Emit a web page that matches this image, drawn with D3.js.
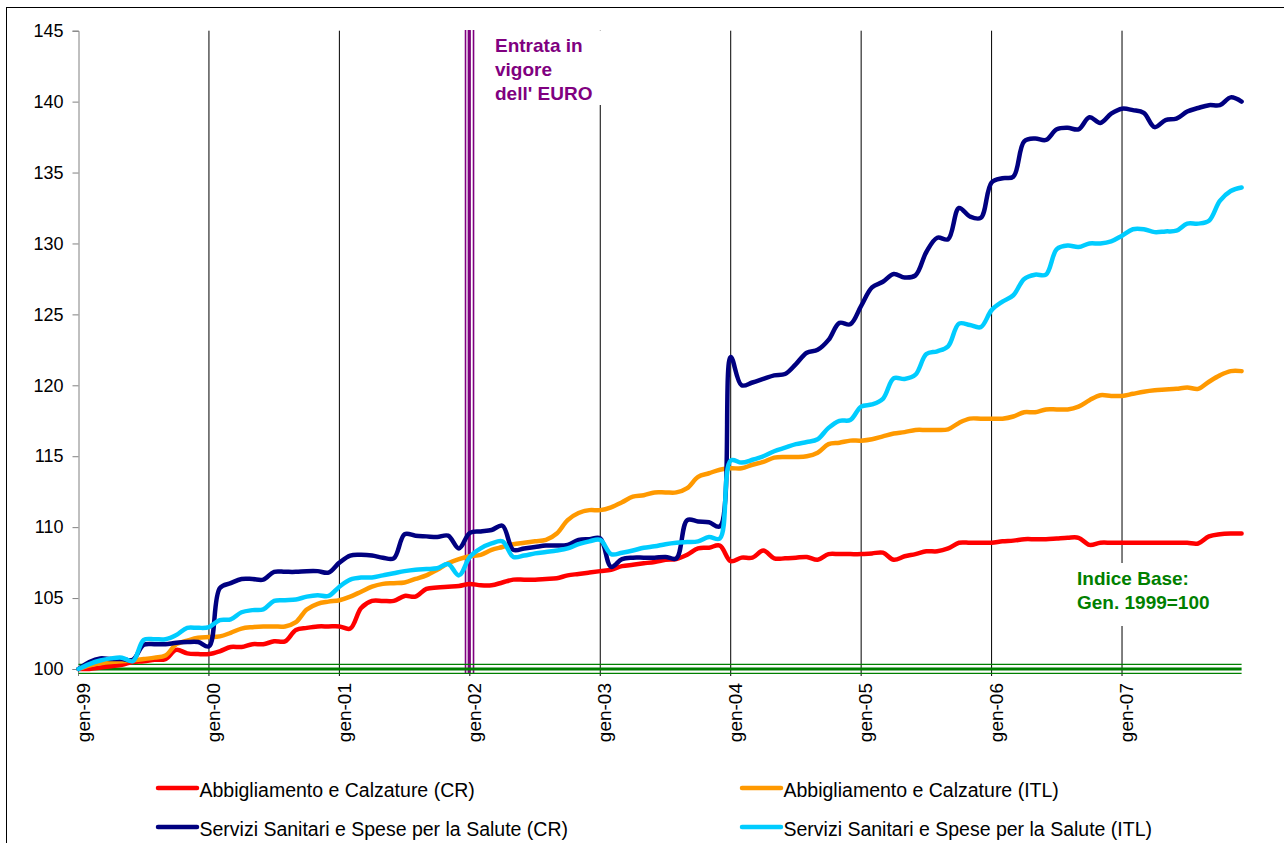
<!DOCTYPE html>
<html>
<head>
<meta charset="utf-8">
<script src="https://cdn.jsdelivr.net/npm/d3@7"></script>
<style>
  body { margin: 0; background: #fff; }
  svg { display: block; font-family: "Liberation Sans", Arial, sans-serif; }
</style>
</head>
<body>
<div class="plot-container"></div>
<script>
// Indici mensili gen-99 .. dic-07 (gen. 1999 = 100)
const tickLabels = ["gen-99", "gen-00", "gen-01", "gen-02", "gen-03", "gen-04", "gen-05", "gen-06", "gen-07"];
const yTicks = [100, 105, 110, 115, 120, 125, 130, 135, 140, 145];

const abbigliamentoCR = [
  100.0, 100.0, 100.1, 100.2, 100.3, 100.5, 100.55, 100.65, 100.7, 101.35, 101.1, 101.05,
  101.05, 101.25, 101.55, 101.55, 101.75, 101.75, 101.95, 101.95, 102.75, 102.9, 103.0, 103.0,
  103.0, 102.85, 104.3, 104.8, 104.8, 104.8, 105.15, 105.1, 105.65, 105.75, 105.8, 105.85,
  106.0, 105.9, 105.9, 106.1, 106.3, 106.3, 106.3, 106.35, 106.4, 106.6, 106.7, 106.8,
  106.9, 107.0, 107.25, 107.35, 107.45, 107.55, 107.7, 107.75, 108.05, 108.5, 108.55, 108.7,
  107.6, 107.85, 107.85, 108.35, 107.8, 107.8, 107.85, 107.9, 107.7, 108.1, 108.1, 108.1,
  108.1, 108.15, 108.2, 107.7, 107.95, 108.1, 108.3, 108.3, 108.5, 108.9, 108.9, 108.9,
  108.9, 109.0, 109.05, 109.15, 109.15, 109.15, 109.2, 109.25, 109.25, 108.75, 108.9, 108.9,
  108.9, 108.9, 108.9, 108.9, 108.9, 108.9, 108.9, 108.85, 109.35, 109.5, 109.55, 109.55
];
const abbigliamentoITL = [
  100.0, 100.25, 100.4, 100.5, 100.55, 100.6, 100.7, 100.8, 100.95, 101.75, 102.0, 102.2,
  102.25, 102.3, 102.55, 102.85, 102.95, 103.0, 103.0, 103.0, 103.3, 104.2, 104.6, 104.75,
  104.85, 105.1, 105.45, 105.8, 106.0, 106.05, 106.1, 106.35, 106.6, 107.0, 107.45, 107.75,
  107.95, 108.05, 108.4, 108.6, 108.8, 108.9, 109.0, 109.1, 109.55, 110.5, 111.0, 111.2,
  111.2, 111.4, 111.75, 112.15, 112.25, 112.45, 112.45, 112.45, 112.75, 113.55, 113.8, 114.05,
  114.15, 114.15, 114.4, 114.6, 114.9, 114.95, 114.95, 115.0, 115.25, 115.85, 115.95, 116.1,
  116.1, 116.2, 116.4, 116.6, 116.7, 116.85, 116.85, 116.85, 116.9, 117.35, 117.65, 117.65,
  117.65, 117.65, 117.8, 118.1, 118.1, 118.3, 118.3, 118.3, 118.5, 118.95, 119.3, 119.25,
  119.25, 119.4, 119.55, 119.65, 119.7, 119.75, 119.85, 119.75, 120.25, 120.7, 121.0, 121.0
];
const saluteCR = [
  100.0, 100.5, 100.75, 100.7, 100.7, 100.65, 101.7, 101.75, 101.75, 101.85, 101.9, 101.9,
  101.6, 105.7, 106.05, 106.35, 106.35, 106.3, 106.85, 106.85, 106.85, 106.9, 106.9, 106.8,
  107.5, 108.0, 108.05, 108.0, 107.85, 107.8, 109.5, 109.4, 109.35, 109.3, 109.4, 108.5,
  109.6, 109.7, 109.8, 110.1, 108.4, 108.5, 108.6, 108.7, 108.7, 108.75, 109.1, 109.15,
  109.2, 107.2, 107.75, 107.85, 107.85, 107.85, 107.9, 107.8, 110.5, 110.4, 110.35, 110.05,
  122.0, 120.0, 120.2, 120.45, 120.7, 120.8, 121.5, 122.3, 122.5, 123.2, 124.4, 124.3,
  125.6, 126.9, 127.3, 127.85, 127.6, 127.75, 129.4, 130.4, 130.3, 132.5, 131.9, 131.8,
  134.3, 134.6, 134.7, 137.2, 137.4, 137.3, 138.05, 138.15, 138.05, 138.9, 138.5, 139.15,
  139.5, 139.4, 139.2, 138.2, 138.7, 138.8, 139.3, 139.55, 139.75, 139.75, 140.3, 140.0
];
const saluteITL = [
  100.0, 100.35, 100.6, 100.75, 100.8, 100.55, 102.05, 102.1, 102.1, 102.4, 102.9, 102.9,
  102.95, 103.45, 103.5, 104.0, 104.15, 104.2, 104.8, 104.85, 104.9, 105.1, 105.2, 105.15,
  105.8, 106.3, 106.45, 106.45, 106.6, 106.75, 106.9, 107.0, 107.05, 107.1, 107.4, 106.6,
  107.9, 108.5, 108.85, 109.0, 107.9, 108.0, 108.15, 108.25, 108.35, 108.5, 108.8, 109.0,
  109.1, 108.1, 108.2, 108.35, 108.55, 108.65, 108.8, 108.9, 108.95, 109.0, 109.3, 109.2,
  114.7, 114.55, 114.75, 115.0, 115.35, 115.6, 115.85, 116.0, 116.2, 117.0, 117.5, 117.55,
  118.5, 118.65, 119.05, 120.5, 120.45, 120.75, 122.2, 122.4, 122.75, 124.35, 124.25, 124.1,
  125.3, 125.9, 126.35, 127.5, 127.8, 127.8, 129.6, 129.85, 129.75, 130.0, 130.0, 130.15,
  130.55, 131.0, 131.0, 130.8, 130.85, 130.9, 131.4, 131.4, 131.6, 133.0, 133.7, 133.95
];

const seriesNames = [
  "Abbigliamento e Calzature (CR)",
  "Abbigliamento e Calzature (ITL)",
  "Servizi Sanitari e Spese per la Salute (CR)",
  "Servizi Sanitari e Spese per la Salute (ITL)"
];
const seriesColors = ["#FF0000", "#FF9900", "#000080", "#00CCFF"];
const seriesValues = [abbigliamentoCR, abbigliamentoITL, saluteCR, saluteITL];

const euroMonth = 36; // gen-02
const baseIndex = 100;

const width = 1284, height = 843;
const svg = d3.select("div.plot-container").append("svg")
  .attr("width", width).attr("height", height);

svg.append("rect").attr("width", width).attr("height", height).attr("fill", "#fff");
// chart area border (continues past the picture)
svg.append("rect")
  .attr("x", 6.5).attr("y", 7.5).attr("width", 1400).attr("height", 1000)
  .attr("fill", "none").attr("stroke", "#000").attr("stroke-width", 1);

const x = d3.scaleLinear().domain([0, abbigliamentoCR.length - 1]).range([78.5, 1241.6]);
const y = d3.scaleLinear().domain([100, 145]).range([669, 30.7]);

// vertical gridlines, one per year, with ticks below the axis
const grid = svg.append("g").attr("class", "grid");
grid.selectAll("line")
  .data(tickLabels.slice(1))
  .enter().append("line")
  .attr("x1", (d, i) => x((i + 1) * 12)).attr("x2", (d, i) => x((i + 1) * 12))
  .attr("y1", y(145)).attr("y2", 676)
  .attr("stroke", "#000").attr("stroke-width", 1);

// y axis
const yAxis = svg.append("g")
  .attr("transform", `translate(${x(0)},0)`)
  .call(d3.axisLeft(y).tickValues(yTicks).tickSize(6).tickPadding(9));
yAxis.select(".domain").attr("stroke", "#808080");
yAxis.selectAll(".tick line").attr("stroke", "#808080");
yAxis.selectAll("text").attr("font-size", "18px").attr("fill", "#000")
  .attr("font-family", "Liberation Sans, Arial, sans-serif");

// x tick at origin
svg.append("line")
  .attr("x1", x(0)).attr("x2", x(0)).attr("y1", y(100)).attr("y2", 676)
  .attr("stroke", "#808080");

// x labels, rotated
svg.append("g").selectAll("text")
  .data(tickLabels)
  .enter().append("text")
  .attr("transform", (d, i) => `translate(${x(i * 12) + 4.5},683) rotate(-90)`)
  .attr("text-anchor", "end")
  .attr("dy", "0.35em")
  .attr("font-size", "19px")
  .text(d => d);

// text boxes cover the gridlines behind them
svg.append("rect").attr("x", 488).attr("y", 31).attr("width", 118).attr("height", 74).attr("fill", "#fff");
svg.append("rect").attr("x", 1070).attr("y", 563).attr("width", 162).attr("height", 63).attr("fill", "#fff");

// Euro marker: compound purple line
const euroX = x(euroMonth);
[[-4.3, 1.6], [-0.6, 3.2], [3.7, 1.6]].forEach(([dx, w]) => {
  svg.append("line")
    .attr("x1", euroX + dx).attr("x2", euroX + dx)
    .attr("y1", 30).attr("y2", 673)
    .attr("stroke", "#800080").attr("stroke-width", w);
});

// base index line: compound green line
[[-4.6, 1.4], [0, 3], [4.4, 1.4]].forEach(([dy, w]) => {
  svg.append("line")
    .attr("x1", x(0)).attr("x2", x(abbigliamentoCR.length - 1))
    .attr("y1", y(baseIndex) + dy).attr("y2", y(baseIndex) + dy)
    .attr("stroke", "#008000").attr("stroke-width", w);
});

// series
const line = d3.line()
  .x((d, i) => x(i))
  .y(d => y(d))
  .curve(d3.curveCatmullRom.alpha(0.5));

svg.append("g").attr("class", "series")
  .selectAll("path")
  .data(seriesValues)
  .enter().append("path")
  .attr("d", line)
  .attr("fill", "none")
  .attr("stroke", (d, i) => seriesColors[i])
  .attr("stroke-width", 4.5)
  .attr("stroke-linejoin", "round")
  .attr("stroke-linecap", "round");

// annotations
const euroText = svg.append("text")
  .attr("x", 495).attr("y", 51.5)
  .attr("font-size", "19px").attr("font-weight", "bold").attr("fill", "#800080");
["Entrata in", "vigore", "dell' EURO"].forEach((t, i) => {
  euroText.append("tspan").attr("x", 495).attr("dy", i === 0 ? 0 : 24).text(t);
});

const baseText = svg.append("text")
  .attr("x", 1077).attr("y", 585)
  .attr("font-size", "19px").attr("font-weight", "bold").attr("fill", "#008000");
["Indice Base:", "Gen. 1999=100"].forEach((t, i) => {
  baseText.append("tspan").attr("x", 1077).attr("dy", i === 0 ? 0 : 24).text(t);
});

// legend
const legendPos = [[158, 788], [742, 788], [158, 827], [742, 827]];
const legend = svg.append("g").attr("class", "legend")
  .selectAll("g")
  .data(seriesNames)
  .enter().append("g")
  .attr("transform", (d, i) => `translate(${legendPos[i][0]},${legendPos[i][1]})`);
legend.append("line")
  .attr("x1", 0).attr("x2", 39)
  .attr("stroke", (d, i) => seriesColors[i])
  .attr("stroke-width", 4.5)
  .attr("stroke-linecap", "round");
legend.append("text")
  .attr("x", 41.5).attr("y", 9)
  .attr("font-size", "19.5px")
  .text(d => d);
</script>
</body>
</html>
